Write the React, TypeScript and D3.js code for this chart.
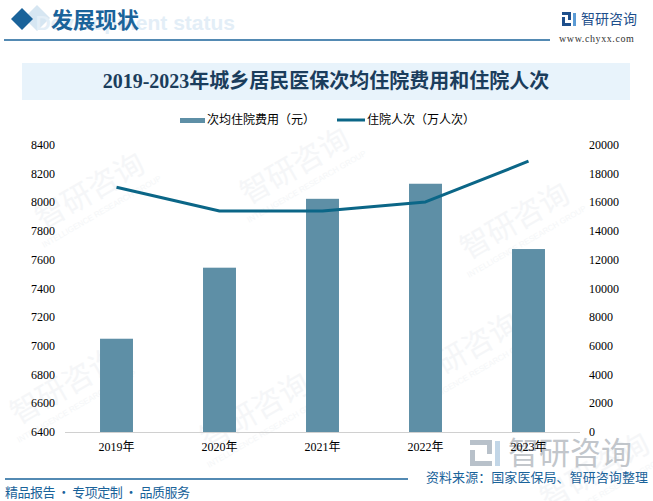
import React from 'react'
import * as d3 from 'd3'

// chart data
const years = ['2019年', '2020年', '2021年', '2022年', '2023年']
const avgCost = [7050, 7545, 8025, 8130, 7675]
const visits = [17050, 15400, 15400, 16030, 18870]
const leftTicks = [6400, 6600, 6800, 7000, 7200, 7400, 7600, 7800, 8000, 8200, 8400]
const rightTicks = [0, 2000, 4000, 6000, 8000, 10000, 12000, 14000, 16000, 18000, 20000]

const W = 653
const H = 501
const M = { top: 145, bottom: 432, left: 65, right: 580 }

const BAR = '#5e8fa6'
const LINE = '#0b6687'
const BLUE = '#1a639a'
const NUM = '"Liberation Serif", "Noto Sans CJK SC", serif'
const CJK = '"Noto Sans CJK SC", sans-serif'

const marks = [
  [95, 200], [300, 175], [520, 230], [70, 395], [260, 420], [470, 360], [600, 480]
]

export default function App() {
  const x = d3.scaleBand<string>().domain(years).range([M.left, M.right]).padding(0)
  const yL = d3.scaleLinear().domain([6400, 8400]).range([M.bottom, M.top])
  const yR = d3.scaleLinear().domain([0, 20000]).range([M.bottom, M.top])
  const barW = x.bandwidth() * 0.32
  const cx = (d: string) => (x(d) as number) + x.bandwidth() / 2

  const line = d3.line<number>()
    .x((_, i) => cx(years[i]))
    .y(d => yR(d))

  return (
    <svg width={W} height={H} style={{ position: 'absolute', left: 0, top: 0, background: '#fff' }}>
      {/* faint watermarks */}
      {marks.map(([mx, my], i) => (
        <g key={i} transform={`translate(${mx},${my}) rotate(-30)`} opacity={0.5}>
          <text fontFamily={CJK} fontSize={30} fill="#eceff2" textAnchor="middle">智研咨询</text>
          <text y={16} fontFamily='"Liberation Sans", sans-serif' fontSize={8} fill="#eceff2" textAnchor="middle">INTELLIGENCE RESEARCH GROUP</text>
        </g>
      ))}

      {/* header */}
      <path d="M37,5 L50,18 L37,31 L24,18 Z" fill="#d6e6f2" />
      <path d="M22,8 L33,19 L22,30 L11,19 Z" fill={BLUE} />
      <text x={235} y={30} textAnchor="end" fontFamily='"Liberation Sans", sans-serif' fontWeight="bold" fontSize={21} fill="#e3eef7">Development status</text>
      <text x={51} y={28} fontFamily={CJK} fontWeight="bold" fontSize={22} fill={BLUE}>发展现状</text>
      <line x1={4} x2={550} y1={40} y2={40} stroke={BLUE} strokeWidth={1.5} />

      {/* logo */}
      <g>
        <rect x={562} y={12} width={9} height={3} fill="#1e4f8c" />
        <rect x={568} y={12} width={3} height={8} fill="#1e4f8c" />
        <rect x={562} y={17} width={3} height={9} fill="#1e4f8c" />
        <rect x={562} y={23} width={9} height={3} fill="#1e4f8c" />
        <rect x={573} y={13} width={3} height={13} fill="#5b9bd5" />
      </g>
      <text x={581} y={24} fontFamily={CJK} fontSize={14} fill="#1e4f8c">智研咨询</text>
      <text x={559} y={42} fontFamily={NUM} fontSize={10} fill="#333" letterSpacing={0.6}>www.chyxx.com</text>

      {/* title */}
      <rect x={22} y={63} width={608} height={37} fill="#e8f3fb" />
      <text x={326} y={88} textAnchor="middle" fontFamily={NUM} fontWeight="bold" fontSize={20} fill="#1b3d5c">2019-2023年城乡居民医保次均住院费用和住院人次</text>

      {/* legend */}
      <rect x={180} y={118} width={25} height={5} fill={BAR} />
      <text x={207} y={124} fontFamily={CJK} fontSize={12} fill="#000">次均住院费用（元）</text>
      <line x1={337} x2={365} y1={120} y2={120} stroke={LINE} strokeWidth={3} />
      <text x={367} y={124} fontFamily={CJK} fontSize={12} fill="#000">住院人次（万人次）</text>

      {/* bottom-right watermark */}
      <g opacity={0.8}>
        <rect x={470} y={440} width={22} height={5} fill="#a7b2bd" />
        <rect x={487} y={440} width={5} height={14} fill="#a7b2bd" />
        <rect x={470} y={450} width={5} height={16} fill="#a7b2bd" />
        <rect x={470} y={461} width={22} height={5} fill="#a7b2bd" />
        <rect x={495} y={441} width={5} height={25} fill="#b4cce2" />
        <text x={508} y={464} fontFamily={CJK} fontSize={31} fill="#b3b9bf">智研咨询</text>
      </g>

      {/* bars */}
      {years.map((d, i) => (
        <rect key={d} x={cx(d) - barW / 2} y={yL(avgCost[i])} width={barW}
          height={M.bottom - yL(avgCost[i])} fill={BAR} />
      ))}

      {/* axis line */}
      <line x1={M.left} x2={M.right} y1={M.bottom + 0.5} y2={M.bottom + 0.5} stroke="#d0d0d0" />

      {/* line */}
      <path d={line(visits) || ''} fill="none" stroke={LINE} strokeWidth={3} strokeLinejoin="round" />

      {/* left axis */}
      {leftTicks.map(t => (
        <text key={t} x={55} y={yL(t) + 4} textAnchor="end" fontFamily={NUM} fontSize={12} fill="#000">{t}</text>
      ))}
      {/* right axis */}
      {rightTicks.map(t => (
        <text key={t} x={589} y={yR(t) + 4} fontFamily={NUM} fontSize={12} fill="#000">{t}</text>
      ))}
      {/* x labels */}
      {years.map(d => (
        <text key={d} x={cx(d)} y={451} textAnchor="middle" fontFamily={NUM} fontSize={12} fill="#000">{d}</text>
      ))}

      {/* footer */}
      <line x1={5} x2={408} y1={479} y2={479} stroke={BLUE} strokeWidth={1.5} />
      <text x={426} y={482} textLength={222} lengthAdjust="spacing" fontFamily={CJK} fontSize={13} fill={BLUE}>资料来源：国家医保局、智研咨询整理</text>
      <text x={5} y={497} textLength={185} lengthAdjust="spacing" fontFamily={CJK} fontSize={13} fill={BLUE}>精品报告 · 专项定制 · 品质服务</text>
    </svg>
  )
}
